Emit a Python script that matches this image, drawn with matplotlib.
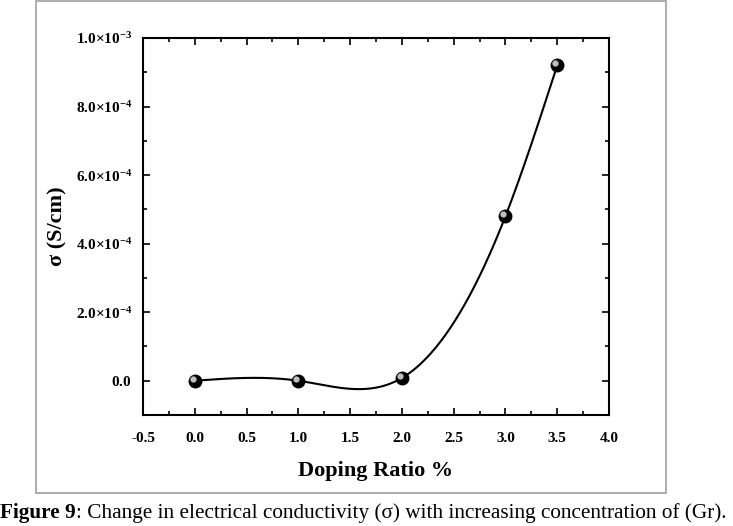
import numpy as np
import matplotlib.pyplot as plt
import matplotlib.ticker as ticker
from matplotlib.patches import Rectangle
from matplotlib.transforms import ScaledTranslation

# data
doping = [0.0, 1.0, 2.0, 3.0, 3.5]
sigma = [0.0, 0.0, 8e-6, 4.8e-4, 9.2e-4]
caption_bold = 'Figure 9'
caption_rest = ': Change in electrical conductivity (σ) with increasing concentration of (Gr).'

plt.rcParams['font.family'] = ['Liberation Serif', 'DejaVu Serif']
plt.rcParams['mathtext.fontset'] = 'custom'
plt.rcParams['mathtext.rm'] = 'Liberation Serif'
plt.rcParams['mathtext.bf'] = 'Liberation Serif:bold'


def natural_spline(x, y, n=300):
    """Natural cubic spline through the points, evaluated on a fine grid."""
    x = np.asarray(x, float)
    y = np.asarray(y, float)
    k = len(x)
    h = np.diff(x)
    A = np.zeros((k, k))
    b = np.zeros(k)
    A[0, 0] = A[-1, -1] = 1
    for i in range(1, k - 1):
        A[i, i - 1] = h[i - 1]
        A[i, i] = 2 * (h[i - 1] + h[i])
        A[i, i + 1] = h[i]
        b[i] = 6 * ((y[i + 1] - y[i]) / h[i] - (y[i] - y[i - 1]) / h[i - 1])
    M = np.linalg.solve(A, b)
    xs = np.linspace(x[0], x[-1], n)
    idx = np.clip(np.searchsorted(x, xs) - 1, 0, k - 2)
    x0, x1 = x[idx], x[idx + 1]
    hh = x1 - x0
    ys = (M[idx] * (x1 - xs) ** 3 / (6 * hh) + M[idx + 1] * (xs - x0) ** 3 / (6 * hh)
          + (y[idx] / hh - M[idx] * hh / 6) * (x1 - xs)
          + (y[idx + 1] / hh - M[idx + 1] * hh / 6) * (xs - x0))
    return xs, ys


def sci_fmt(v, pos):
    if abs(v) < 1e-12:
        return r'$\mathbf{0.0}$'
    exp = int(np.floor(np.log10(abs(v))))
    mant = v / 10 ** exp
    return r'$\mathbf{%.1f{\times}10^{%d}}$' % (mant, exp)


fig = plt.figure(figsize=(7.33, 5.26), dpi=100)

# gray frame around the chart
fig.patches.append(Rectangle((36 / 733, 1 - 493 / 526), (666 - 36) / 733, (493 - 1) / 526,
                             transform=fig.transFigure, fill=False,
                             edgecolor='#a0a0a0', linewidth=1.2))

ax = fig.add_axes([143 / 733, (526 - 415) / 526, 466 / 733, 377 / 526])

xs, ys = natural_spline(doping, sigma)
ax.plot(xs, ys, color='black', linewidth=1.5, zorder=2)
ax.plot(doping, sigma, 'o', color='black', markersize=9, zorder=3)
# small highlight to give the balls a shaded look
ax.plot(doping, sigma, 'o', color='#bfbfbf', markersize=3.5, zorder=4,
        transform=ax.transData + ScaledTranslation(-1.5 / 72, 1.5 / 72, fig.dpi_scale_trans))

ax.set_xlim(-0.5, 4.0)
ax.set_ylim(-1e-4, 1e-3)
ax.xaxis.set_major_locator(ticker.MultipleLocator(0.5))
ax.xaxis.set_minor_locator(ticker.MultipleLocator(0.25))
ax.yaxis.set_major_locator(ticker.MultipleLocator(2e-4))
ax.yaxis.set_minor_locator(ticker.MultipleLocator(1e-4))
ax.xaxis.set_major_formatter(ticker.FuncFormatter(lambda v, p: '%.1f' % v))
ax.yaxis.set_major_formatter(ticker.FuncFormatter(sci_fmt))

ax.tick_params(which='both', direction='in', top=True, right=True, width=1.2)
ax.tick_params(which='major', length=5, labelsize=11)
ax.tick_params(axis='x', which='major', pad=12)
ax.tick_params(axis='y', which='major', pad=8)
ax.tick_params(which='minor', length=3)
for lab in ax.get_xticklabels():
    lab.set_fontweight('bold')
for sp in ax.spines.values():
    sp.set_linewidth(1.5)

ax.set_xlabel('Doping Ratio %', fontsize=16, fontweight='bold', labelpad=12)
ax.set_ylabel('σ (S/cm)', fontsize=16, fontweight='bold', labelpad=6)

# caption below the frame: bold prefix + regular rest
t1 = fig.text(0 / 733, 1 - 513 / 526, caption_bold, fontsize=15.3, fontweight='bold', va='center')
fig.canvas.draw()
bb = t1.get_window_extent()
fig.text(bb.x1 / fig.bbox.width, 1 - 513 / 526, caption_rest, fontsize=15.3, va='center')

fig.savefig('out.png', dpi=100)
